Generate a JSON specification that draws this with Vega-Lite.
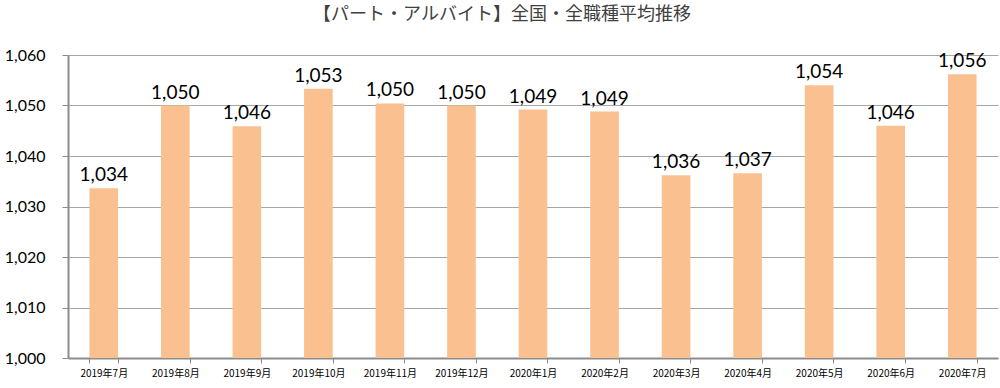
{
  "$schema": "https://vega.github.io/schema/vega-lite/v6.json",
  "autosize": "none",
  "width": 930,
  "height": 303,
  "padding": {"left": 68, "top": 55, "right": 2, "bottom": 30},
  "background": "white",
  "title": {
    "text": "【パート・アルバイト】全国・全職種平均推移",
    "font": "Noto Sans CJK JP",
    "fontSize": 18,
    "fontWeight": "normal",
    "color": "#404040",
    "anchor": "middle",
    "frame": "group",
    "dx": -31,
    "offset": 23
  },
  "data": {
    "values": [
      {"month": "2019年7月", "wage": 1033.6},
      {"month": "2019年8月", "wage": 1050.0},
      {"month": "2019年9月", "wage": 1045.9},
      {"month": "2019年10月", "wage": 1053.3},
      {"month": "2019年11月", "wage": 1050.4},
      {"month": "2019年12月", "wage": 1050.0},
      {"month": "2020年1月", "wage": 1049.2},
      {"month": "2020年2月", "wage": 1048.8},
      {"month": "2020年3月", "wage": 1036.2},
      {"month": "2020年4月", "wage": 1036.6},
      {"month": "2020年5月", "wage": 1054.0},
      {"month": "2020年6月", "wage": 1046.0},
      {"month": "2020年7月", "wage": 1056.2}
    ]
  },
  "encoding": {
    "x": {
      "field": "month",
      "type": "nominal",
      "sort": null,
      "scale": {"paddingInner": 0.6, "paddingOuter": 0.3},
      "axis": {
        "title": null,
        "labelAngle": 0,
        "labelFont": "Noto Sans CJK JP",
        "labelFontSize": 10,
        "labelColor": "#000000",
        "labelPadding": 5,
        "tickBand": "extent",
        "tickSize": 5,
        "tickColor": "#8c8c8c",
        "domainColor": "#8c8c8c",
        "domainWidth": 2,
        "grid": false
      }
    },
    "y": {
      "field": "wage",
      "type": "quantitative",
      "scale": {"domain": [1000, 1060], "zero": false, "nice": false},
      "axis": {
        "title": null,
        "values": [1000, 1010, 1020, 1030, 1040, 1050, 1060],
        "format": ",.0f",
        "labelFont": "Lato",
        "labelFontSize": 16,
        "labelColor": "#000000",
        "labelPadding": 17,
        "tickSize": 6,
        "tickColor": "#8c8c8c",
        "domainColor": "#8c8c8c",
        "domainWidth": 2,
        "grid": true,
        "gridColor": "#a6a6a6",
        "gridWidth": 1.2
      }
    }
  },
  "layer": [
    {
      "mark": {"type": "bar", "color": "#FAC090"},
      "encoding": {"y2": {"datum": 1000}}
    },
    {
      "mark": {
        "type": "text",
        "font": "Lato",
        "fontSize": 19,
        "color": "#000000",
        "baseline": "alphabetic",
        "dy": -7
      },
      "encoding": {
        "text": {"field": "wage", "type": "quantitative", "format": ",.0f"}
      }
    }
  ],
  "config": {"view": {"stroke": null}}
}
